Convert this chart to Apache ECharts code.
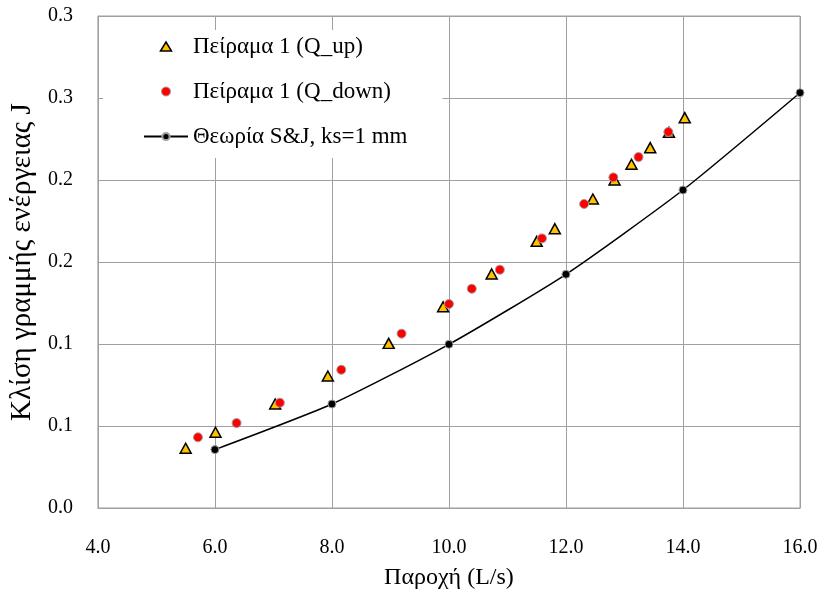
<!DOCTYPE html>
<html>
<head>
<meta charset="utf-8">
<script src="https://cdn.jsdelivr.net/npm/echarts@6/dist/echarts.min.js"></script>
<style>
html,body{margin:0;padding:0;background:#fff;}
#chart{width:827px;height:598px;}
</style>
</head>
<body>
<div id="chart"></div>
<script>
// ---- data ----
const seriesNames = ['Πείραμα 1 (Q_up)', 'Πείραμα 1 (Q_down)', 'Θεωρία S&J, ks=1 mm'];
const qUpX = [5.50, 6.01, 7.03, 7.93, 8.97, 9.90, 10.73, 11.50, 11.81, 12.46, 12.83, 13.12, 13.44, 13.76, 14.03];
const qUpY = [0.0364, 0.0462, 0.0634, 0.0805, 0.1004, 0.1227, 0.1427, 0.1626, 0.1703, 0.1884, 0.2000, 0.2096, 0.2197, 0.2291, 0.2380];
const qDownX = [5.71, 6.37, 7.11, 8.16, 9.19, 10.00, 10.39, 10.87, 11.59, 12.31, 12.81, 13.24, 13.75];
const qDownY = [0.0431, 0.0518, 0.0642, 0.0843, 0.1063, 0.1244, 0.1337, 0.1453, 0.1644, 0.1854, 0.2016, 0.2140, 0.2293];
const theoryX = [6, 8, 10, 12, 14, 16];
const theoryY = [0.0356, 0.0634, 0.0998, 0.1425, 0.1939, 0.2532];
const xTickLabels = ['4.0', '6.0', '8.0', '10.0', '12.0', '14.0', '16.0'];
const yTickLabels = ['0.0', '0.1', '0.1', '0.2', '0.2', '0.3', '0.3'];
const xAxisName = 'Παροχή (L/s)';
const yAxisName = 'Κλίση γραμμής ενέργειας J';

const pairs = (xs, ys) => xs.map((x, i) => [x, ys[i]]);
const FONT = "'Liberation Serif', 'Times New Roman', serif";
const GRID = '#a0a0a0';
// legend triangle drawn inside a 44x9 box (invisible moveTo corners keep it unstretched)
const LEGEND_TRIANGLE = 'path://M0,0 M44,9 M16.5,9 L22,0 L27.5,9 Z';

const chart = echarts.init(document.getElementById('chart'), null, {renderer: 'canvas'});
chart.setOption({
  animation: false,
  backgroundColor: '#fff',
  textStyle: {fontFamily: FONT, color: '#000'},
  grid: {left: 96, right: 27, top: 16, bottom: 90, show: true, borderColor: GRID, borderWidth: 1, backgroundColor: 'transparent'},
  legend: {
    orient: 'vertical',
    left: 103, top: 30,
    backgroundColor: '#fff',
    padding: [5, 35, 10, 40],
    itemGap: 22,
    itemWidth: 44,
    itemHeight: 9,
    textStyle: {fontFamily: FONT, fontSize: 23, color: '#000'},
    data: [
      {name: seriesNames[0], icon: LEGEND_TRIANGLE, itemStyle: {color: '#FFC000', borderColor: '#000', borderWidth: 1.5}},
      {name: seriesNames[1], icon: 'circle', itemStyle: {color: '#FF0000', borderColor: GRID, borderWidth: 1}},
      {name: seriesNames[2]}
    ]
  },
  xAxis: {
    type: 'value', min: 4, max: 16, interval: 2,
    name: xAxisName, nameLocation: 'middle', nameGap: 58,
    nameTextStyle: {fontFamily: FONT, fontSize: 24, color: '#000'},
    axisLine: {show: true, lineStyle: {color: GRID, width: 1}},
    axisTick: {show: false},
    axisLabel: {fontFamily: FONT, fontSize: 20, color: '#000', margin: 30,
      formatter: v => xTickLabels[Math.round((v - 4) / 2)]},
    splitLine: {show: true, lineStyle: {color: GRID, width: 1}}
  },
  yAxis: {
    type: 'value', min: 0, max: 0.3, interval: 0.05,
    name: yAxisName, nameLocation: 'middle', nameGap: 53,
    nameTextStyle: {fontFamily: FONT, fontSize: 29, color: '#000'},
    axisLine: {show: true, lineStyle: {color: GRID, width: 1}},
    axisTick: {show: false},
    axisLabel: {fontFamily: FONT, fontSize: 20, color: '#000', margin: 25,
      formatter: v => yTickLabels[Math.round(v / 0.05)]},
    splitLine: {show: true, lineStyle: {color: GRID, width: 1}}
  },
  series: [
    {
      name: seriesNames[0], type: 'scatter', data: pairs(qUpX, qUpY),
      symbol: 'triangle', symbolSize: [11, 10],
      itemStyle: {color: '#FFC000', borderColor: '#000', borderWidth: 1.5, opacity: 1},
      z: 2
    },
    {
      name: seriesNames[1], type: 'scatter', data: pairs(qDownX, qDownY),
      symbol: 'circle', symbolSize: 9,
      itemStyle: {color: '#FF0000', borderColor: GRID, borderWidth: 1, opacity: 1},
      z: 3
    },
    {
      name: seriesNames[2], type: 'line', data: pairs(theoryX, theoryY),
      symbol: 'circle', symbolSize: 8, showSymbol: true, smooth: 0.2,
      lineStyle: {color: '#000', width: 1.5},
      itemStyle: {color: '#000', borderColor: GRID, borderWidth: 1},
      z: 4
    }
  ]
});
</script>
</body>
</html>
